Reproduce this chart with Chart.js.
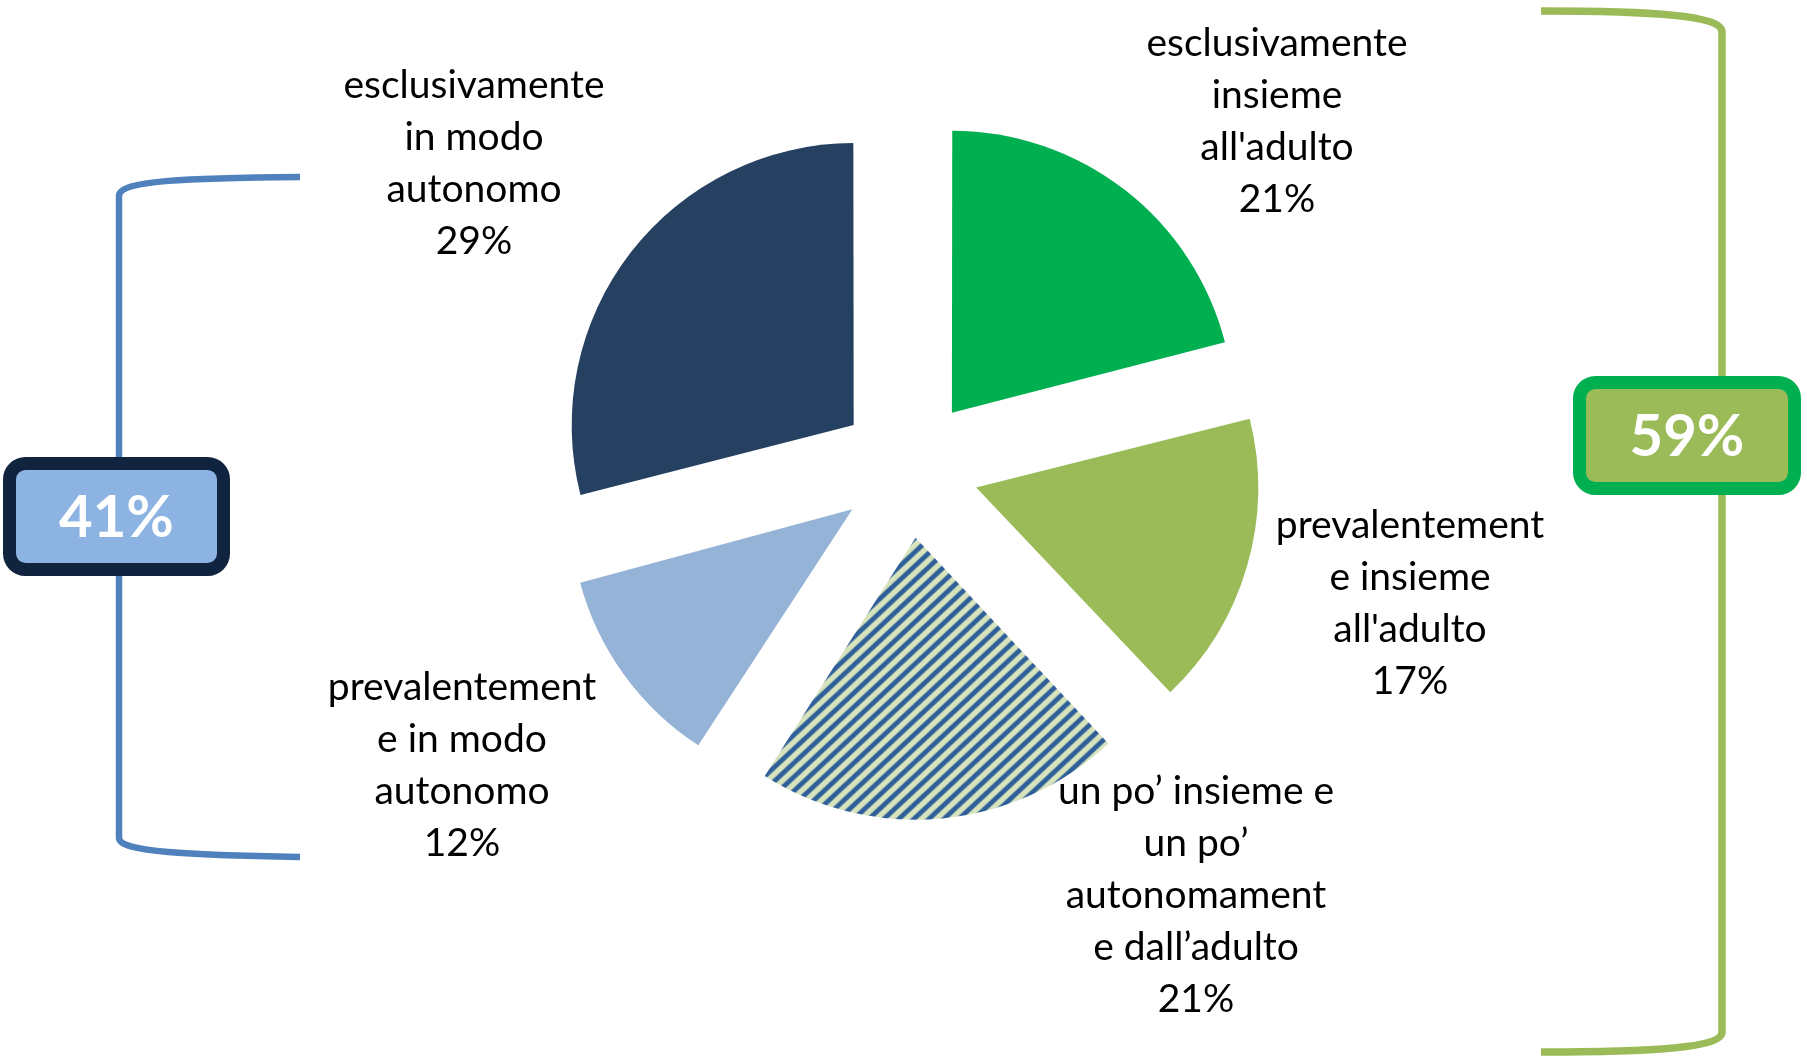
<!DOCTYPE html>
<html>
<head>
<meta charset="utf-8">
<script src="https://cdn.jsdelivr.net/npm/chart.js@4.4.1/dist/chart.umd.min.js"></script>
<style>
  html, body { margin: 0; padding: 0; background: #fff; }
  #wrap { width: 1807px; height: 1059px; }
</style>
</head>
<body>
<div id="wrap"><canvas id="pie" width="1807" height="1059"></canvas></div>
<script>
// categories (as wrapped in the original labels), clockwise from 12 o'clock
const categories = [
    ['esclusivamente', 'insieme', "all'adulto"],
    ['prevalentement', 'e insieme', "all'adulto"],
    ['un po\u2019 insieme e', 'un po\u2019', 'autonomament', 'e dall\u2019adulto'],
    ['prevalentement', 'e in modo', 'autonomo'],
    ['esclusivamente', 'in modo', 'autonomo']
];
const values = [21, 17, 21, 12, 29];
const groupTotals = ['41%', '59%'];

// label centres (x, y of first line)
const labelPos = [[1277, 43], [1410, 525], [1196, 791], [462, 687], [474, 85]];

const pieRadius = 282;
const pieOffset = 280; // chart.js moves the arc by offset / 4
const lineGap = 52;
const labelFont = '39px Lato';

function stripes() {
    const w = 15, h = 14;
    const c = document.createElement('canvas');
    c.width = w;
    c.height = h;
    const g = c.getContext('2d');
    g.fillStyle = '#d7e4bd';
    g.fillRect(0, 0, w, h);
    g.strokeStyle = '#2e5f99';
    g.lineWidth = 4.8;
    g.beginPath();
    [-1, 0, 1].forEach(k => {
        g.moveTo(-w + k * w, 2 * h);
        g.lineTo(2 * w + k * w, -h);
    });
    g.stroke();
    return g.createPattern(c, 'repeat');
}

const colors = ['#00b050', '#9bbb59', stripes(), '#95b3d7', '#254061'];

// keep every slice the same radius despite the offset
const sameRadius = {
    id: 'sameRadius',
    afterDatasetUpdate(chart, args) {
        args.meta.data.forEach(arc => {
            const fix = 1 - Math.sin(Math.min(Math.PI, arc.circumference));
            arc.outerRadius = pieRadius - (pieOffset / 4) * fix;
        });
    }
};

function badge(ctx, x, y, w, h, stroke, fill, text) {
    ctx.beginPath();
    ctx.roundRect(x, y, w, h, 16);
    ctx.fillStyle = fill;
    ctx.fill();
    ctx.lineWidth = 13;
    ctx.strokeStyle = stroke;
    ctx.stroke();
    ctx.fillStyle = '#ffffff';
    ctx.font = 'bold 58px Lato';
    ctx.textAlign = 'center';
    ctx.textBaseline = 'middle';
    ctx.fillText(text, x + w / 2, y + h / 2 + 2);
}

const decorations = {
    id: 'decorations',
    afterDraw(chart) {
        const ctx = chart.ctx;
        ctx.save();
        ctx.lineCap = 'butt';

        // left bracket
        ctx.strokeStyle = '#4f81bd';
        ctx.lineWidth = 6.5;
        ctx.beginPath();
        ctx.moveTo(300, 177);
        ctx.bezierCurveTo(190, 178, 119, 180, 119, 196);
        ctx.lineTo(119, 838);
        ctx.bezierCurveTo(119, 852, 190, 855, 300, 857);
        ctx.stroke();

        // right bracket
        ctx.strokeStyle = '#9bbb59';
        ctx.lineWidth = 7.5;
        ctx.beginPath();
        ctx.moveTo(1541, 11);
        ctx.bezierCurveTo(1650, 11, 1722, 15, 1722, 32);
        ctx.lineTo(1722, 1032);
        ctx.bezierCurveTo(1722, 1048, 1650, 1052, 1541, 1052);
        ctx.stroke();

        badge(ctx, 9.5, 463.5, 214, 106, '#10243f', '#8db3e2', groupTotals[0]);
        badge(ctx, 1579.5, 382.5, 215, 106, '#00b050', '#9bbb59', groupTotals[1]);

        // data labels
        ctx.fillStyle = '#000000';
        ctx.font = labelFont;
        ctx.textAlign = 'center';
        ctx.textBaseline = 'middle';
        categories.forEach((lines, i) => {
            const [x, y] = labelPos[i];
            const all = lines.concat([values[i] + '%']);
            all.forEach((t, k) => ctx.fillText(t, x, y + k * lineGap));
        });
        ctx.restore();
    }
};

new Chart(document.getElementById('pie').getContext('2d'), {
    type: 'pie',
    data: {
        labels: categories.map(c => c.join(' ')),
        datasets: [{
            data: values,
            backgroundColor: colors,
            borderWidth: 0,
            offset: pieOffset
        }]
    },
    options: {
        responsive: false,
        animation: false,
        radius: pieRadius,
        layout: {padding: {left: 11, bottom: 123}},
        plugins: {
            legend: {display: false},
            tooltip: {enabled: false}
        }
    },
    plugins: [sameRadius, decorations]
});
</script>
</body>
</html>
